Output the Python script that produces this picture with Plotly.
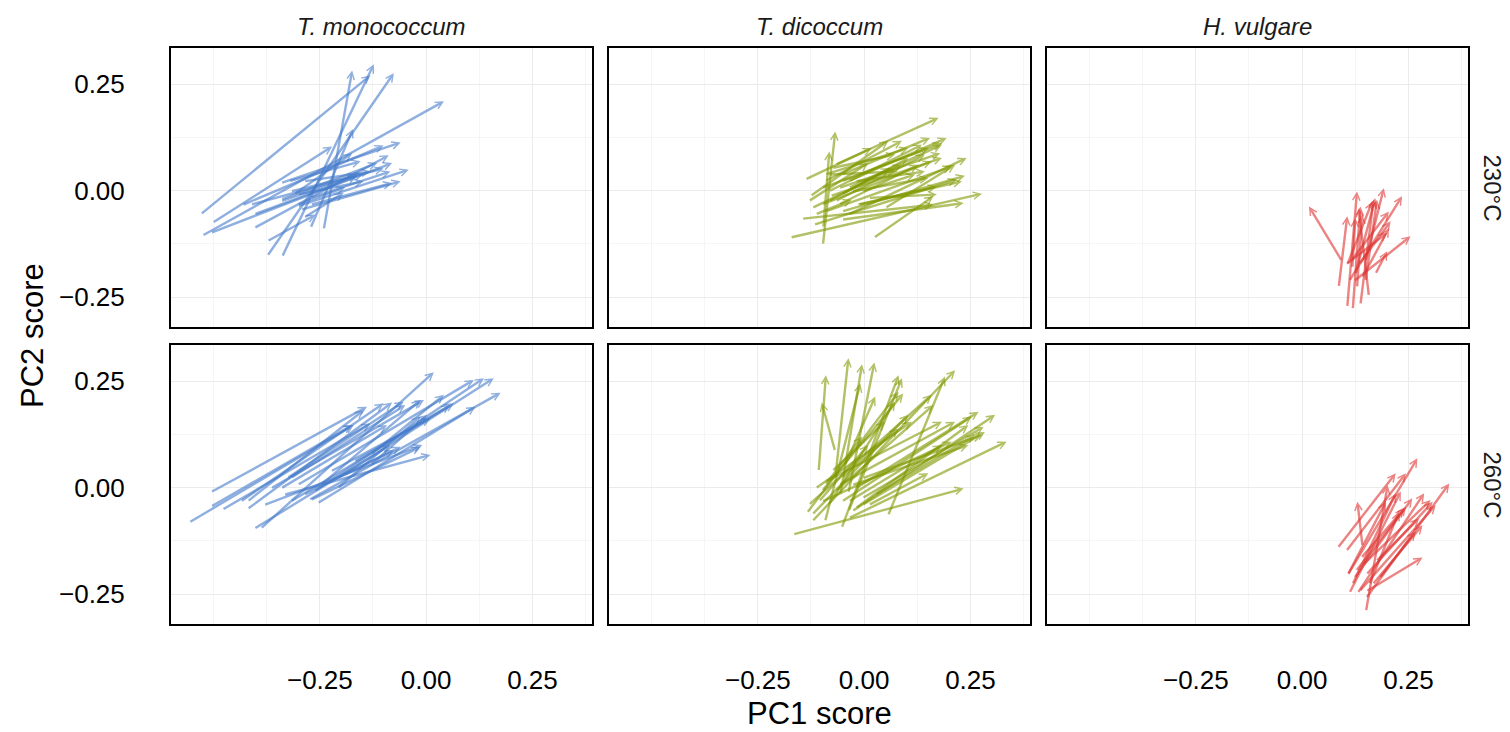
import plotly.graph_objects as go
from plotly.subplots import make_subplots

# ---------------- data (PC1/PC2 scores: start -> end of each arrow) ----------------
species = ["T. monococcum", "T. dicoccum", "H. vulgare"]
temps = ["230°C", "260°C"]
tick_vals = [-0.25, 0.0, 0.25]
tick_text = ["\u22120.25", "0.00", "0.25"]

# T. monococcum, 230°C
tm230_x0 = [-0.241, -0.339, -0.374, -0.531, -0.527, -0.272, -0.503, -0.433, -0.342, -0.311, -0.323,
            -0.405, -0.507, -0.319, -0.303, -0.413, -0.295, -0.272, -0.303, -0.374, -0.288, -0.288, -0.342,
            -0.342, -0.405, -0.272, -0.303]
tm230_y0 = [-0.092, -0.156, -0.154, -0.056, -0.106, -0.088, -0.076, -0.034, 0.018, -0.009, 0.022,
            -0.088, -0.099, -0.002, -0.037, -0.033, -0.045, -0.033, -0.033, -0.119, -0.064, 0.022, -0.025,
            -0.021, -0.056, -0.017, -0.009]
tm230_x1 = [-0.174, -0.123, -0.076, -0.131, 0.042, -0.172, -0.221, -0.100, -0.060, -0.174, -0.154,
            -0.088, -0.080, -0.100, -0.041, -0.147, -0.060, -0.080, -0.190, -0.260, -0.194, -0.131, -0.162,
            -0.115, -0.162, -0.084, -0.147]
tm230_y1 = [0.282, 0.297, 0.276, 0.271, 0.210, 0.145, 0.104, 0.106, 0.113, 0.088, 0.069,
            0.083, 0.065, 0.052, 0.049, 0.039, 0.022, 0.018, 0.008, -0.056, -0.005, 0.045, 0.038,
            0.065, 0.034, 0.045, 0.022]

# T. dicoccum, 230°C
td230_x0 = [-0.097, -0.096, -0.139, -0.127, -0.092, -0.068, -0.053, -0.037, -0.084, -0.060, -0.100,
            -0.037, -0.092, -0.053, -0.119, -0.174, -0.053, 0.022, -0.147, -0.021, -0.084, -0.005,
            -0.053, -0.076, -0.115, 0.010, 0.049, -0.131, -0.068, -0.037, -0.092, -0.013,
            -0.100, -0.080, -0.060, -0.084, -0.053, -0.029, -0.123, -0.017]
td230_y0 = [-0.128, -0.088, 0.026, -0.013, 0.022, 0.061, 0.038, 0.022, -0.002, 0.006, -0.033,
            -0.056, -0.049, -0.049, -0.080, -0.110, -0.068, -0.111, -0.066, 0.022, 0.038, -0.002,
            -0.009, 0.053, -0.056, -0.017, -0.041, -0.025, -0.025, 0.006, 0.038, -0.033,
            0.006, -0.013, -0.033, -0.025, 0.022, -0.002, -0.041, -0.033]
td230_x1 = [-0.068, -0.082, 0.018, 0.057, 0.089, 0.175, 0.155, 0.194, 0.136, 0.179, 0.159,
            0.241, 0.206, 0.237, 0.218, 0.277, 0.234, 0.163, 0.163, 0.143, 0.077, 0.120,
            0.104, 0.073, -0.029, 0.171, 0.214, 0.010, 0.143, 0.183, 0.104, 0.230,
            0.152, 0.183, 0.128, 0.061, 0.183, 0.151, 0.089, 0.171]
td230_y1 = [0.139, 0.092, 0.100, 0.117, 0.117, 0.171, 0.124, 0.124, 0.108, 0.088, 0.069,
            0.077, 0.057, 0.035, 0.026, -0.007, -0.029, -0.013, -0.033, 0.045, 0.045, 0.038,
            0.077, 0.085, -0.021, -0.009, 0.061, 0.065, 0.085, 0.108, 0.100, 0.022,
            0.100, 0.077, 0.061, 0.053, 0.112, 0.030, 0.061, 0.010]

# H. vulgare, 230°C
hv230_x0 = [0.094, 0.086, 0.106, 0.119, 0.137, 0.157, 0.110, 0.121, 0.172, 0.149, 0.114,
            0.125, 0.133, 0.102, 0.129, 0.141, 0.118, 0.106, 0.149]
hv230_y0 = [-0.166, -0.227, -0.274, -0.279, -0.268, -0.248, -0.213, -0.213, -0.196, -0.166, -0.166,
            -0.197, -0.174, -0.174, -0.228, -0.205, -0.182, -0.174, -0.213]
hv230_x1 = [0.016, 0.106, 0.129, 0.137, 0.168, 0.133, 0.235, 0.255, 0.200, 0.192, 0.204,
            0.172, 0.208, 0.200, 0.141, 0.204, 0.125, 0.165, 0.176]
hv230_y1 = [-0.037, -0.060, -0.002, -0.037, -0.021, -0.041, -0.013, -0.107, -0.142, 0.006, -0.049,
            -0.017, -0.072, -0.099, -0.056, -0.088, -0.064, -0.025, -0.021]

# T. monococcum, 260°C
tm260_x0 = [-0.558, -0.507, -0.507, -0.480, -0.421, -0.405, -0.390, -0.256, -0.276, -0.335, -0.437,
            -0.382, -0.319, -0.209, -0.264, -0.303, -0.131, -0.327, -0.366, -0.225, -0.194, -0.131,
            -0.248, -0.288, -0.342, -0.272, -0.421, -0.170, -0.319, -0.209]
tm260_y0 = [-0.082, -0.011, -0.045, -0.052, -0.051, -0.097, -0.097, -0.037, -0.029, -0.017, -0.033,
            -0.041, -0.033, 0.022, -0.009, 0.006, 0.077, 0.022, -0.002, 0.038, 0.030, 0.053,
            0.006, -0.017, -0.002, -0.029, -0.033, 0.061, 0.022, -0.002]
tm260_x1 = [-0.170, -0.139, -0.174, -0.131, -0.080, -0.084, 0.018, 0.116, 0.175, 0.010, -0.100,
            -0.009, 0.065, 0.159, 0.136, 0.112, 0.042, -0.053, -0.005, 0.010, -0.060, 0.002,
            -0.013, -0.076, -0.092, -0.013, -0.147, 0.057, -0.049, -0.013]
tm260_y1 = [0.147, 0.190, 0.147, 0.151, 0.200, 0.100, 0.271, 0.190, 0.223, 0.077, 0.198,
            0.100, 0.198, 0.257, 0.257, 0.253, 0.218, 0.202, 0.206, 0.163, 0.096, 0.171,
            0.206, 0.088, 0.147, 0.096, 0.182, 0.194, 0.194, 0.167]

# T. dicoccum, 260°C
td260_x0 = [-0.168, -0.068, -0.107, -0.068, -0.056, -0.037, -0.092, -0.053, -0.037, -0.123, 0.056,
            -0.131, -0.135, -0.100, -0.053, -0.029, -0.037, -0.005, -0.021, -0.092, -0.068, -0.005,
            0.010, -0.029, -0.100, 0.026, -0.076, -0.045, -0.084, -0.021, -0.060, -0.115, -0.005,
            -0.107, -0.092, -0.053, -0.037, -0.123]
td260_y0 = [-0.110, 0.085, 0.038, 0.022, -0.017, -0.013, -0.080, -0.095, -0.056, -0.080, -0.066,
            -0.041, -0.060, -0.009, -0.033, -0.056, -0.072, -0.041, -0.002, 0.014, -0.009, -0.025,
            -0.041, 0.006, -0.033, -0.017, 0.038, 0.053, -0.041, -0.049, 0.006, -0.002, 0.022,
            -0.033, 0.006, 0.022, -0.033, -0.064]
td260_x1 = [0.234, -0.100, -0.090, -0.037, -0.005, 0.024, -0.009, 0.081, 0.089, 0.214, 0.190,
            0.159, 0.081, 0.092, 0.253, 0.308, 0.335, 0.284, 0.269, 0.183, 0.163, 0.281,
            0.151, 0.245, 0.206, 0.261, 0.049, 0.026, 0.073, 0.245, 0.214, 0.112, 0.277,
            0.010, -0.005, 0.081, 0.183, 0.104]
td260_y1 = [-0.002, 0.200, 0.264, 0.304, 0.290, 0.294, 0.245, 0.264, 0.257, 0.276, 0.261,
            0.218, 0.225, 0.221, 0.167, 0.171, 0.108, 0.131, 0.178, 0.155, 0.194, 0.143,
            0.034, 0.100, 0.108, 0.124, 0.155, 0.214, 0.202, 0.147, 0.155, 0.155, 0.124,
            0.100, 0.120, 0.139, 0.100, 0.171]

# H. vulgare, 260°C
hv260_x0 = [0.083, 0.103, 0.107, 0.150, 0.130, 0.150, 0.150, 0.142, 0.111, 0.122, 0.134,
            0.165, 0.181, 0.126, 0.107, 0.142, 0.158, 0.173, 0.138, 0.118, 0.150]
hv260_y0 = [-0.142, -0.150, -0.205, -0.291, -0.248, -0.260, -0.244, -0.138, -0.248, -0.213, -0.244,
            -0.228, -0.213, -0.197, -0.205, -0.182, -0.228, -0.174, -0.166, -0.228, -0.205]
hv260_x1 = [0.220, 0.244, 0.271, 0.201, 0.287, 0.346, 0.283, 0.130, 0.232, 0.259, 0.314,
            0.283, 0.267, 0.244, 0.197, 0.302, 0.228, 0.275, 0.240, 0.220, 0.307]
hv260_y1 = [0.034, 0.034, 0.069, 0.006, -0.013, 0.010, -0.164, -0.033, -0.009, -0.025, -0.041,
            -0.088, -0.103, -0.045, -0.033, -0.029, -0.056, -0.072, -0.049, -0.013, -0.033]

colors = ["rgba(68,123,203,0.6)", "rgba(128,153,0,0.6)", "rgba(222,52,50,0.6)"]

panels = [
    # (row, col, x0, y0, x1, y1)
    (1, 1, tm230_x0, tm230_y0, tm230_x1, tm230_y1),
    (1, 2, td230_x0, td230_y0, td230_x1, td230_y1),
    (1, 3, hv230_x0, hv230_y0, hv230_x1, hv230_y1),
    (2, 1, tm260_x0, tm260_y0, tm260_x1, tm260_y1),
    (2, 2, td260_x0, td260_y0, td260_x1, td260_y1),
    (2, 3, hv260_x0, hv260_y0, hv260_x1, hv260_y1),
]

# ---------------- layout ----------------
W, H = 1510, 732
ML, MR, MT, MB = 171, 42, 48, 108
PW = W - ML - MR
PH = H - MT - MB
FONT = "Liberation Sans, Arial, Helvetica, sans-serif"

fig = make_subplots(rows=2, cols=3, horizontal_spacing=17 / PW, vertical_spacing=18 / PH)

for (r, c, x0, y0, x1, y1) in panels:
    idx = (r - 1) * 3 + c
    sfx = "" if idx == 1 else str(idx)
    # invisible trace so the axes exist with data
    fig.add_trace(go.Scatter(x=x0 + x1, y=y0 + y1, mode="markers",
                             marker=dict(size=0.1, opacity=0), hoverinfo="skip",
                             showlegend=False), row=r, col=c)
    col = colors[c - 1]
    for a, b, p, q in zip(x0, y0, x1, y1):
        fig.add_annotation(x=p, y=q, ax=a, ay=b,
                           xref="x" + sfx, yref="y" + sfx,
                           axref="x" + sfx, ayref="y" + sfx,
                           text="", showarrow=True, arrowhead=5,
                           arrowsize=0.6, arrowwidth=2.4, arrowcolor=col)

axis_common = dict(
    showline=True, linecolor="black", linewidth=2, mirror=True,
    showgrid=True, gridcolor="#ebebeb", gridwidth=1.2, zeroline=False,
    tickvals=tick_vals, ticktext=tick_text, ticks="",
    tickfont=dict(family=FONT, size=26, color="black"),
)
for r in (1, 2):
    for c in (1, 2, 3):
        fig.update_xaxes(axis_common, range=[-0.60, 0.39],
                         minor=dict(tickvals=[-0.5, -0.375, -0.125, 0.125, 0.375],
                                    showgrid=True, gridcolor="#f5f5f5", gridwidth=1.2),
                         showticklabels=(r == 2), ticklabelstandoff=32,
                         row=r, col=c)
        fig.update_yaxes(axis_common, range=[-0.32, 0.335],
                         minor=dict(tickvals=[-0.125, 0.125],
                                    showgrid=True, gridcolor="#f5f5f5", gridwidth=1.2),
                         showticklabels=(c == 1), ticklabelstandoff=39,
                         row=r, col=c)

# strip labels
for i, name in enumerate(species):
    xc = (i * 438 + 210.5) / PW
    fig.add_annotation(x=xc, y=1 + 22 / PH, xref="paper", yref="paper",
                       text="<i>" + name + "</i>", showarrow=False,
                       font=dict(family=FONT, size=24, color="#1a1a1a"),
                       xanchor="center", yanchor="middle")
for j, t in enumerate(temps):
    yc = 1 - (139.5 + j * 297) / PH
    fig.add_annotation(x=1 + 24 / PW, y=yc, xref="paper", yref="paper",
                       text=t, showarrow=False, textangle=90,
                       font=dict(family=FONT, size=24, color="#1a1a1a"),
                       xanchor="center", yanchor="middle")

# axis titles
fig.add_annotation(x=0.5, y=-89 / PH, xref="paper", yref="paper", text="PC1 score",
                   showarrow=False, font=dict(family=FONT, size=31, color="black"),
                   xanchor="center", yanchor="middle")
fig.add_annotation(x=-139 / PW, y=0.5, xref="paper", yref="paper", text="PC2 score",
                   showarrow=False, textangle=-90,
                   font=dict(family=FONT, size=31, color="black"),
                   xanchor="center", yanchor="middle")

fig.update_layout(
    width=W, height=H,
    margin=dict(l=ML, r=MR, t=MT, b=MB),
    paper_bgcolor="white", plot_bgcolor="white",
    showlegend=False,
    font=dict(family=FONT),
)

fig.write_html("out.html", config={"displayModeBar": False},
               post_script="document.body.style.margin='0px';document.body.style.padding='0px';")
